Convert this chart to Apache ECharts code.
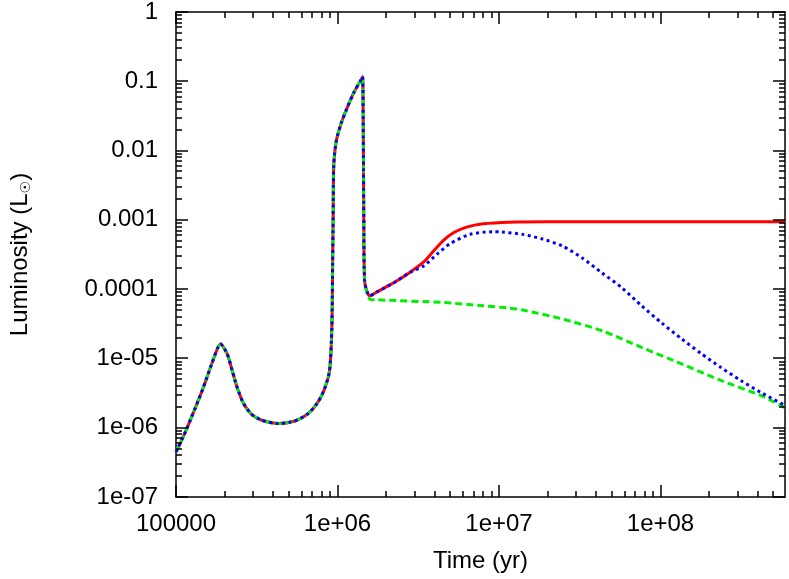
<!DOCTYPE html>
<html>
<head>
<meta charset="utf-8">
<script src="https://cdn.jsdelivr.net/npm/echarts@6/dist/echarts.min.js"></script>
<style>
  html, body { margin: 0; padding: 0; background: #fff; }
  #chart { width: 789px; height: 579px; }
</style>
</head>
<body>
<div id="chart"></div>
<script>
// shared early evolution (all three models overlap)
var earlyTime = [1.0e5, 1.148e5, 1.459e5, 1.679e5, 1.888e5, 2.075e5, 2.228e5, 2.388e5, 2.624e5, 2.951e5,
  3.404e5, 4.305e5, 5.445e5, 6.577e5, 7.568e5, 8.318e5, 8.933e5, 9.226e5, 9.333e5, 9.397e5,
  9.484e5, 9.817e5, 1.054e6, 1.156e6, 1.271e6, 1.396e6, 1.429e6, 1.442e6, 1.455e6, 1.472e6];
var earlyLum = [4.47e-7, 8.9e-7, 3.53e-6, 8.81e-6, 1.62e-5, 1.16e-5, 6.68e-6, 3.85e-6, 2.22e-6, 1.55e-6,
  1.28e-6, 1.15e-6, 1.25e-6, 1.60e-6, 2.34e-6, 3.66e-6, 6.68e-6, 2.81e-5, 2.55e-4, 1.07e-3,
  6.31e-3, 1.355e-2, 2.48e-2, 4.32e-2, 7.08e-2, 0.104, 0.116, 0.03, 1e-3, 1.3e-4];

// red (solid)
var redTime = [1.585e6, 1.770e6, 2.239e6, 2.831e6, 3.420e6, 3.936e6, 4.529e6, 5.224e6, 6.295e6, 7.98e6,
  1.161e7, 2.0e7, 1.0e8, 5.9e8];
var redLum = [8.0e-5, 9.23e-5, 1.245e-4, 1.774e-4, 2.466e-4, 3.548e-4, 5.06e-4, 6.5e-4, 7.85e-4, 8.77e-4,
  9.27e-4, 9.38e-4, 9.38e-4, 9.38e-4];

// blue (dotted)
var blueTime = [1.585e6, 1.770e6, 2.239e6, 2.831e6, 3.420e6, 4.121e6, 4.977e6, 6.607e6, 9.183e6, 1.042e7,
  1.403e7, 1.862e7, 2.472e7, 3.273e7, 4.345e7, 5.768e7, 7.638e7, 1.014e8, 1.346e8, 1.786e8,
  2.366e8, 3.141e8, 4.169e8, 5.9e8];
var blueLum = [8.0e-5, 9.2e-5, 1.24e-4, 1.76e-4, 2.163e-4, 3.184e-4, 4.52e-4, 6.17e-4, 6.73e-4, 6.67e-4,
  6.17e-4, 5.28e-4, 4.19e-4, 2.82e-4, 1.714e-4, 1.047e-4, 5.75e-5, 3.27e-5, 1.93e-5, 1.175e-5,
  7.41e-6, 4.81e-6, 3.24e-6, 2.10e-6];

// green (dashed)
var greenTime = [1.585e6, 1.770e6, 4.529e6, 7.98e6, 1.161e7, 1.403e7, 2.472e7, 4.345e7, 7.638e7, 1.346e8,
  2.366e8, 4.169e8, 5.9e8];
var greenLum = [7.2e-5, 7.01e-5, 6.41e-5, 5.75e-5, 5.33e-5, 4.99e-5, 3.71e-5, 2.51e-5, 1.445e-5, 8.36e-6,
  4.81e-6, 2.92e-6, 1.95e-6];

var xTickValues = [1e5, 1e6, 1e7, 1e8];
var xTickLabels = ['100000', '1e+06', '1e+07', '1e+08'];
var yTickValues = [1e-7, 1e-6, 1e-5, 1e-4, 1e-3, 1e-2, 1e-1, 1];
var yTickLabels = ['1e-07', '1e-06', '1e-05', '0.0001', '0.001', '0.01', '0.1', '1'];

var xMin = 1e5, xMax = 5.9e8, yMin = 1e-7, yMax = 1;

function pairs(t, l) {
  return t.map(function (v, i) { return [v, l[i]]; });
}
function labelFor(values, labels) {
  return function (v) {
    for (var i = 0; i < values.length; i++) {
      if (Math.abs(Math.log10(v) - Math.log10(values[i])) < 1e-6) return labels[i];
    }
    return '';
  };
}

// ticks: majors at decades, minors 2..9 per decade
var minorX = [], minorY = [];
for (var e = 5; e <= 8; e++) {
  for (var m = 2; m <= 9; m++) { var v = m * Math.pow(10, e); if (v < xMax) minorX.push(v); }
}
for (var e2 = -7; e2 <= -1; e2++) {
  for (var m2 = 2; m2 <= 9; m2++) minorY.push(m2 * Math.pow(10, e2));
}
var xTicks = xTickValues.map(function (v) { return [v, 12]; }).concat(minorX.map(function (v) { return [v, 6]; }));
var yTicks = yTickValues.map(function (v) { return [v, 12]; }).concat(minorY.map(function (v) { return [v, 6]; }));

var font = 'Liberation Sans, Arial, Helvetica, sans-serif';
var line = { show: true, onZero: false, lineStyle: { color: '#000', width: 1.5 } };
var tickStyle = { stroke: '#000', lineWidth: 1.5 };

var Chart = echarts.init(document.getElementById('chart'));
Chart.setOption({
  animation: false,
  backgroundColor: '#fff',
  grid: { left: 170, right: 4, top: 10, bottom: 82 },
  xAxis: [{
    type: 'log', logBase: 10, min: xMin, max: xMax,
    position: 'bottom',
    name: 'Time (yr)', nameLocation: 'middle', nameGap: 52,
    nameTextStyle: { fontFamily: font, fontSize: 24, color: '#000' },
    axisLine: line, axisTick: { show: false }, splitLine: { show: false },
    axisLabel: { margin: 15, fontFamily: font, fontSize: 24, color: '#000',
      formatter: labelFor(xTickValues, xTickLabels) }
  }, {
    type: 'log', logBase: 10, min: xMin, max: xMax, position: 'top',
    axisLine: line, axisTick: { show: false }, axisLabel: { show: false }, splitLine: { show: false }
  }],
  yAxis: [{
    type: 'log', logBase: 10, min: yMin, max: yMax,
    position: 'left',
    name: '{a|Luminosity (L}{b|☉}{a|)}', nameLocation: 'middle', nameRotate: 90, nameGap: 143,
    nameTextStyle: {
      rich: {
        a: { fontFamily: font, fontSize: 24, color: '#000', lineHeight: 26 },
        b: { fontFamily: 'DejaVu Sans', fontSize: 14, color: '#000', padding: [12, 0, 0, 0] }
      }
    },
    axisLine: line, axisTick: { show: false }, splitLine: { show: false },
    axisLabel: { margin: 18, fontFamily: font, fontSize: 24, color: '#000',
      formatter: labelFor(yTickValues, yTickLabels) }
  }, {
    type: 'log', logBase: 10, min: yMin, max: yMax, position: 'right',
    axisLine: line, axisTick: { show: false }, axisLabel: { show: false }, splitLine: { show: false }
  }],
  series: [
    {
      type: 'custom', silent: true, clip: false, z: 5,
      data: xTicks.map(function (d) { return [d[0], yMin, d[1]]; }),
      renderItem: function (params, api) {
        var cs = params.coordSys;
        var x = Math.round(api.coord([api.value(0), yMin])[0]);
        var len = api.value(2);
        var b = cs.y + cs.height;
        return { type: 'group', children: [
          { type: 'line', shape: { x1: x, y1: b, x2: x, y2: b - len }, style: tickStyle },
          { type: 'line', shape: { x1: x, y1: cs.y, x2: x, y2: cs.y + len }, style: tickStyle }
        ] };
      }
    },
    {
      type: 'custom', silent: true, clip: false, z: 5,
      data: yTicks.map(function (d) { return [xMin, d[0], d[1]]; }),
      renderItem: function (params, api) {
        var cs = params.coordSys;
        var y = Math.round(api.coord([xMin, api.value(1)])[1]);
        var len = api.value(2);
        var r = cs.x + cs.width;
        return { type: 'group', children: [
          { type: 'line', shape: { x1: cs.x, y1: y, x2: cs.x + len, y2: y }, style: tickStyle },
          { type: 'line', shape: { x1: r, y1: y, x2: r - len, y2: y }, style: tickStyle }
        ] };
      }
    },
    {
      name: 'red', type: 'line', symbol: 'none', smooth: 0.25,
      data: pairs(earlyTime, earlyLum).concat(pairs(redTime, redLum)),
      lineStyle: { color: '#ff0000', width: 3, type: 'solid' }
    },
    {
      name: 'green', type: 'line', symbol: 'none', smooth: 0.25,
      data: pairs(earlyTime, earlyLum).concat(pairs(greenTime, greenLum)),
      lineStyle: { color: '#00ee00', width: 3, type: [7, 4], cap: 'butt' }
    },
    {
      name: 'blue', type: 'line', symbol: 'none', smooth: 0.25,
      data: pairs(earlyTime, earlyLum).concat(pairs(blueTime, blueLum)),
      lineStyle: { color: '#0000ff', width: 3, type: [3, 3.5], cap: 'butt' }
    }
  ]
});
</script>
</body>
</html>
